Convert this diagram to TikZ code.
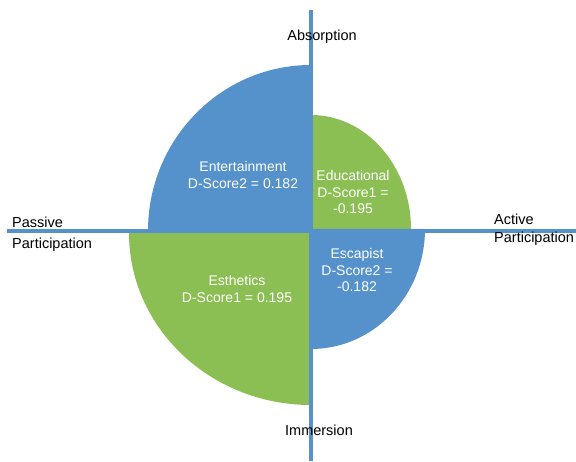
\documentclass[tikz,border=0pt]{standalone}
\usepackage{fontspec}
\setmainfont{Liberation Sans}
\definecolor{quadblue}{RGB}{85,146,204}
\definecolor{quadgreen}{RGB}{139,191,84}
\tikzset{
  axlabel/.style={font=\fontsize{14.5}{16}\selectfont, text=black, inner sep=0pt},
  qlabel/.style={font=\fontsize{14}{16.5}\selectfont, text=white, align=center, inner sep=0pt},
  axisline/.style={draw=quadblue, line width=4.5pt}
}
\begin{document}
\begin{tikzpicture}[x=1pt, y=1pt]
    \useasboundingbox (0, 0) rectangle (576, 461);

    % quadrants
    \fill[quadblue] (311, 230) -- (311, 396) arc[start angle=90, end angle=180, x radius=163, y radius=166] -- cycle;
    \fill[quadgreen] (311, 232) -- (311, 346) arc[start angle=90, end angle=0, x radius=100, y radius=114] -- cycle;
    \fill[quadgreen] (311, 228) -- (129, 228) arc[start angle=180, end angle=270, x radius=182, y radius=172] -- cycle;
    \fill[quadblue] (311, 232) -- (425, 232) arc[start angle=0, end angle=-90, x radius=114, y radius=120] -- cycle;

    % axes
    \coordinate (top) at (311, 451);
    \coordinate (bottom) at (311, 0);
    \coordinate (left) at (7, 230);
    \coordinate (right) at (576, 230);
    \draw[axisline] (top) -- (bottom);
    \draw[axisline] (left) -- (right);

    \node[axlabel] (absorption) at (322, 424) {Absorption};
    \node[axlabel] (immersion) at (319, 31) {Immersion};
    \node[axlabel, anchor=west] (passive) at (12, 239) {Passive};
    \node[axlabel, anchor=west] (passivepart) at (12, 216) {Participation};
    \node[axlabel, anchor=west] (active) at (494, 242) {Active};
    \node[axlabel, anchor=west] (activepart) at (494, 222) {Participation};

    \node[qlabel] (entertainment) at (243, 286) {Entertainment\\D-Score2 = 0.182};
    \node[qlabel] (educational) at (353, 269) {Educational\\D-Score1 =\\-0.195};
    \node[qlabel] (esthetics) at (237, 172) {Esthetics\\D-Score1 = 0.195};
    \node[qlabel] (escapist) at (357, 191) {Escapist\\D-Score2 =\\-0.182};
  \end{tikzpicture}
\end{document}
